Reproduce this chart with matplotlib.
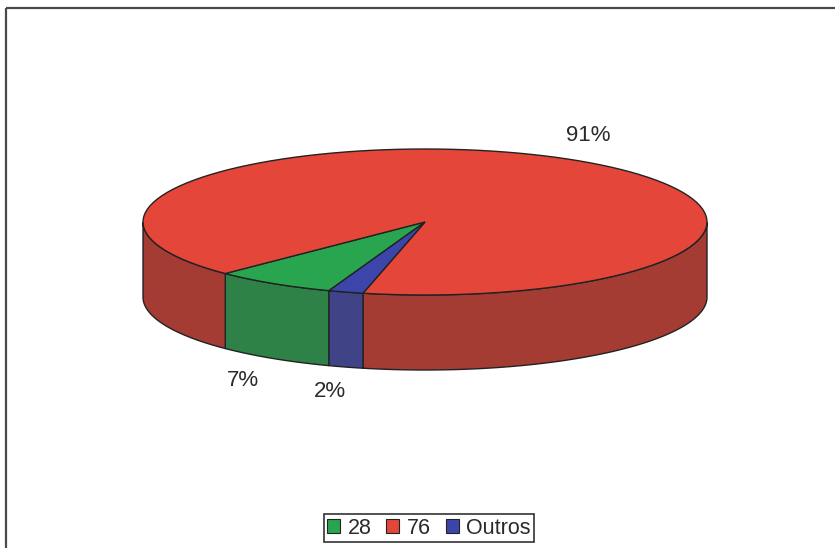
import matplotlib.pyplot as plt
import numpy as np
from matplotlib.patches import Patch, Polygon, Rectangle

categories = ["28", "76", "Outros"]
shares = [7, 91, 2]

TOP_COLOURS = ["#2aa54f", "#e5463a", "#3c46aa"]
SIDE_COLOURS = ["#2e8248", "#a53c33", "#414387"]
EDGE = "#222222"

# pie geometry in pixel units (y grows downward)
CX, CY = 425, 222
RX, RY = 282, 73
DEPTH = 75
START = 250.1  # first slice starts here and runs clockwise


def rim(t0, t1, dy=0, n=120):
    t = np.radians(np.linspace(t0, t1, n))
    return np.column_stack([CX + RX * np.cos(t), CY - RY * np.sin(t) + dy])


plt.rcParams["font.family"] = ["Liberation Sans", "DejaVu Sans"]

fig = plt.figure(figsize=(8.35, 5.48), dpi=100)
ax = fig.add_axes([0, 0, 1, 1])
ax.set_xlim(0, 835)
ax.set_ylim(548, 0)
ax.axis("off")

ax.add_patch(Rectangle((6, 8), 840, 560, fill=False, edgecolor="#4a4a4a", lw=1.6))

total = sum(shares)
bounds = [START]
for v in shares:
    bounds.append(bounds[-1] - 360 * v / total)

slices = []
for i, v in enumerate(shares):
    lo = bounds[i + 1] % 360
    hi = lo + 360 * v / total
    slices.append((lo, hi))

# front wall: only the part facing the viewer (180..360 deg) is drawn
for (lo, hi), side in zip(slices, SIDE_COLOURS):
    for w0, w1 in [(180, 360), (540, 720)]:
        a, b = max(lo, w0), min(hi, w1)
        if b <= a:
            continue
        pts = np.vstack([rim(a, b), rim(b, a, DEPTH)])
        ax.add_patch(Polygon(pts, closed=True, facecolor=side, edgecolor=EDGE, lw=1.0))

for (lo, hi), top in zip(slices, TOP_COLOURS):
    pts = np.vstack([[CX, CY], rim(lo, hi)])
    ax.add_patch(Polygon(pts, closed=True, facecolor=top, edgecolor=EDGE, lw=1.0))

# percentage labels outside each slice
for (lo, hi), v in zip(slices, shares):
    mid = np.radians((lo + hi) / 2)
    x = CX + RX * 1.2 * np.cos(mid)
    y = CY - RY * 1.35 * np.sin(mid)
    if np.sin(mid) < 0:
        y += DEPTH
    ax.text(x, y, f"{round(100 * v / total)}%", ha="center", va="center",
            fontsize=16, color="#2a2a2a")

handles = [Patch(facecolor=c, edgecolor=EDGE, lw=0.8) for c in TOP_COLOURS]
leg = ax.legend(handles, categories, loc="center", bbox_to_anchor=(429, 528),
                bbox_transform=ax.transData, ncol=3, fontsize=15.5,
                handlelength=0.6, handleheight=0.6, handletextpad=0.35,
                columnspacing=0.7, borderpad=0.15, fancybox=False, framealpha=1)
leg.get_frame().set_edgecolor("#333333")
leg.get_frame().set_linewidth(1.2)
for t in leg.get_texts():
    t.set_color("#2a2a2a")

fig.savefig("out.png", dpi=100)
